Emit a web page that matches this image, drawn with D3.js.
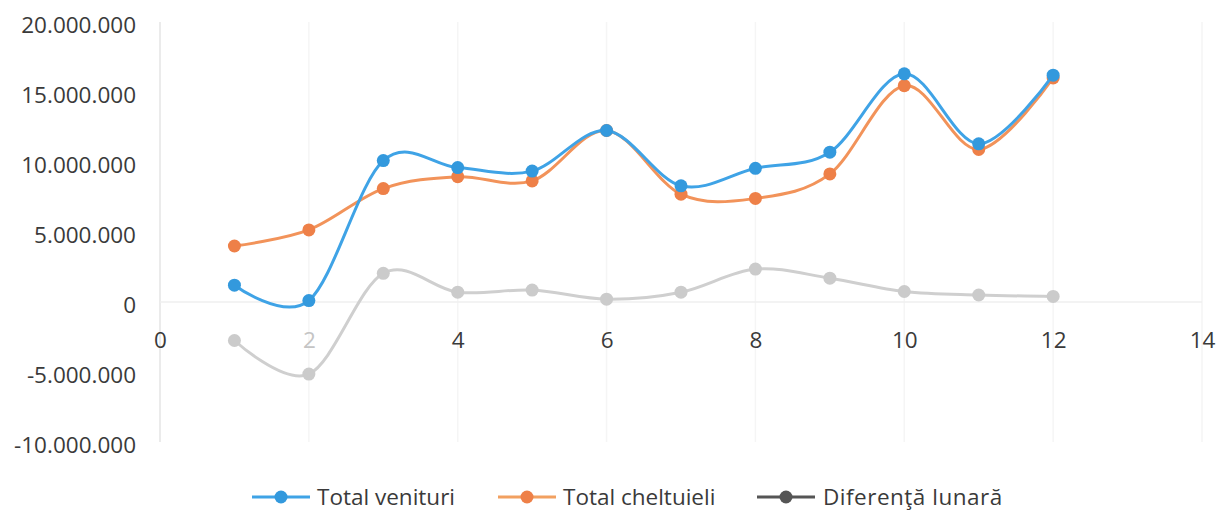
<!DOCTYPE html>
<html>
<head>
<meta charset="utf-8">
<script src="https://cdn.jsdelivr.net/npm/d3@7"></script>
<style>
  html, body { margin: 0; padding: 0; background: #fff; }
  svg { display: block; font-family: "Open Sans", "Liberation Sans", sans-serif; }
</style>
</head>
<body>
<svg id="chart" width="1219" height="512"></svg>
<script>
const months = [1, 2, 3, 4, 5, 6, 7, 8, 9, 10, 11, 12];
const venituri = [1200000, 100000, 10100000, 9600000, 9350000, 12250000, 8300000, 9550000, 10700000, 16300000, 11300000, 16200000];
const cheltuieli = [4000000, 5150000, 8100000, 8950000, 8650000, 12250000, 7700000, 7400000, 9150000, 15450000, 10900000, 16000000];
const diferenta = [-2750000, -5150000, 2050000, 700000, 850000, 200000, 700000, 2350000, 1700000, 750000, 500000, 400000];
const seriesNames = ["Total venituri", "Total cheltuieli", "Diferenţă lunară"];
const xTicks = [0, 2, 4, 6, 8, 10, 12, 14];
const yTicks = [-10000000, -5000000, 0, 5000000, 10000000, 15000000, 20000000];

const svg = d3.select("#chart");
const x = d3.scaleLinear().domain([0, 14]).range([160, 1202]);
const y = d3.scaleLinear().domain([-10000000, 20000000]).range([442, 22]);

const fmt = v => {
  const s = d3.format(",")(Math.abs(v)).replace(/,/g, ".");
  return (v < 0 ? "-" : "") + s;
};

// faint vertical gridlines
svg.append("g").selectAll("line").data(xTicks).join("line")
  .attr("x1", d => x(d)).attr("x2", d => x(d))
  .attr("y1", y(20000000)).attr("y2", y(-10000000))
  .attr("stroke", d => d === 0 ? "#e4e4e4" : "#f5f5f5").attr("stroke-width", 1.5);

// zero axis line
svg.append("line")
  .attr("x1", x(0)).attr("x2", x(14))
  .attr("y1", y(0)).attr("y2", y(0))
  .attr("stroke", "#efefef").attr("stroke-width", 1.5);

// y axis labels
const yAxis = d3.axisLeft(y).tickValues(yTicks).tickFormat(fmt).tickSize(0).tickPadding(0);
const gy = svg.append("g").attr("transform", "translate(136,3)").call(yAxis);
gy.select(".domain").remove();
gy.selectAll("text").attr("font-size", 22.5).attr("fill", "#3a3a3a")
  .attr("font-family", "'Open Sans', sans-serif");

// x axis labels
const xAxis = d3.axisBottom(x).tickValues(xTicks).tickFormat(d3.format("d")).tickSize(0).tickPadding(0);
const gx = svg.append("g").attr("transform", "translate(0,332)").call(xAxis);
gx.select(".domain").remove();
gx.selectAll("text").attr("font-size", 22.5).attr("fill", d => d === 2 ? "#c4c4c4" : "#3a3a3a")
  .attr("font-family", "'Open Sans', sans-serif");

const series = [
  { name: seriesNames[2], values: diferenta, color: "#cfcfcf", marker: "#cbcbcb" },
  { name: seriesNames[1], values: cheltuieli, color: "#f2935a", marker: "#ee8048" },
  { name: seriesNames[0], values: venituri, color: "#3fa3e6", marker: "#3399dd" }
];

const line = d3.line()
  .x((d, i) => x(months[i]))
  .y(d => y(d))
  .curve(d3.curveCatmullRom.alpha(0));

series.forEach(s => {
  const g = svg.append("g");
  g.append("path").datum(s.values)
    .attr("d", line)
    .attr("fill", "none")
    .attr("stroke", s.color)
    .attr("stroke-width", 3)
    .attr("stroke-linejoin", "round");
  g.selectAll("circle").data(s.values).join("circle")
    .attr("cx", (d, i) => x(months[i]))
    .attr("cy", d => y(d))
    .attr("r", 6.5)
    .attr("fill", s.marker);
});

// legend
const legendItems = [
  { name: seriesNames[0], color: "#3fa3e6", marker: "#3399dd", x0: 252 },
  { name: seriesNames[1], color: "#f2a060", marker: "#ee8048", x0: 498 },
  { name: seriesNames[2], color: "#555555", marker: "#555555", x0: 757 }
];
const lg = svg.append("g");
legendItems.forEach((it, idx) => {
  const g = lg.append("g").attr("transform", `translate(${it.x0},497)`);
  g.append("line").attr("x1", 0).attr("x2", 58).attr("y1", 0).attr("y2", 0)
    .attr("stroke", it.color).attr("stroke-width", 3);
  g.append("circle").attr("cx", 29).attr("cy", 0).attr("r", 6.5).attr("fill", it.marker);
  g.append("text").attr("x", idx === 2 ? 66 : 65).attr("y", 0).attr("dy", "0.35em")
    .attr("font-size", 22.5).attr("fill", "#3a3a3a")
    .attr("letter-spacing", idx === 2 ? "0.5px" : "0px")
    .text(it.name);
});
</script>
</body>
</html>
